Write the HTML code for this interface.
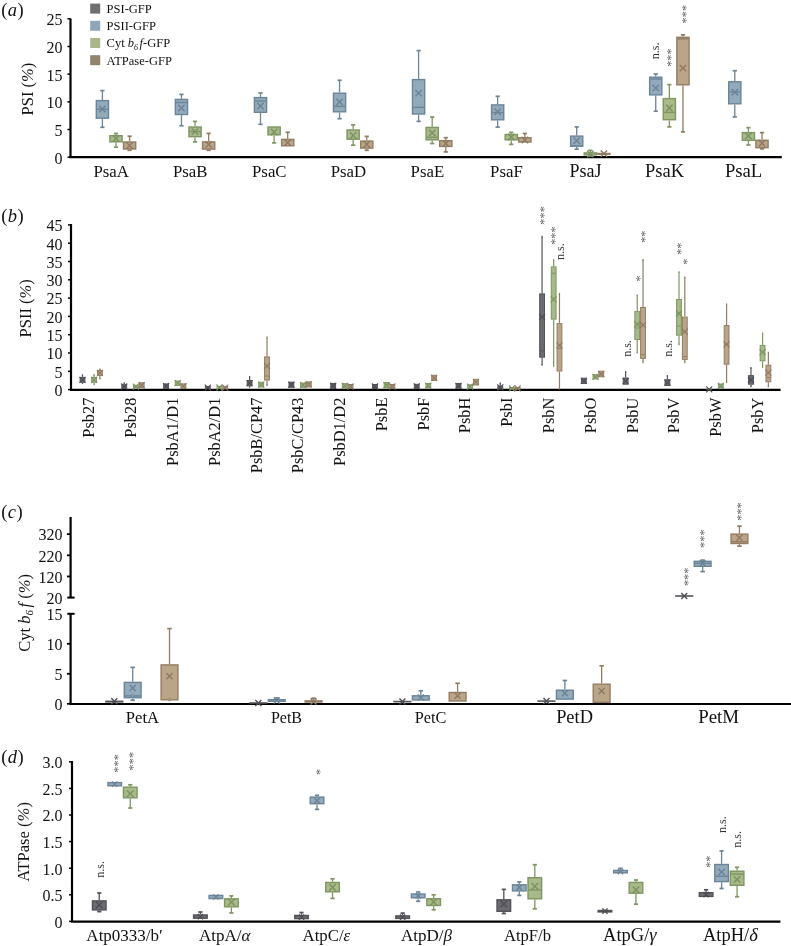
<!DOCTYPE html>
<html><head><meta charset="utf-8"><title>Figure</title>
<style>
html,body{margin:0;padding:0;background:#fff;}
body{width:791px;height:946px;overflow:hidden;font-family:"Liberation Serif",serif;}
svg{display:block;will-change:transform;}
</style></head><body>
<svg width="791" height="946" viewBox="0 0 791 946" font-family="Liberation Serif, serif">
<rect width="791" height="946" fill="#fff"/>
<text x="1.2" y="15.7" font-size="18.5" text-anchor="start" fill="#111" letter-spacing="0.4">(<tspan font-style="italic">a</tspan>)</text>
<line x1="70.5" y1="18.5" x2="70.5" y2="157.2" stroke="#000" stroke-width="2.2"/>
<line x1="67.5" y1="157.2" x2="70.5" y2="157.2" stroke="#000" stroke-width="1.5"/>
<text x="62.5" y="163.54" font-size="16" text-anchor="end" fill="#111">0</text>
<line x1="67.5" y1="129.52" x2="70.5" y2="129.52" stroke="#000" stroke-width="1.5"/>
<text x="62.5" y="135.86" font-size="16" text-anchor="end" fill="#111">5</text>
<line x1="67.5" y1="101.84" x2="70.5" y2="101.84" stroke="#000" stroke-width="1.5"/>
<text x="62.5" y="108.18" font-size="16" text-anchor="end" fill="#111">10</text>
<line x1="67.5" y1="74.16" x2="70.5" y2="74.16" stroke="#000" stroke-width="1.5"/>
<text x="62.5" y="80.5" font-size="16" text-anchor="end" fill="#111">15</text>
<line x1="67.5" y1="46.48" x2="70.5" y2="46.48" stroke="#000" stroke-width="1.5"/>
<text x="62.5" y="52.82" font-size="16" text-anchor="end" fill="#111">20</text>
<line x1="67.5" y1="18.8" x2="70.5" y2="18.8" stroke="#000" stroke-width="1.5"/>
<text x="62.5" y="25.14" font-size="16" text-anchor="end" fill="#111">25</text>
<line x1="69.4" y1="157.2" x2="781.8" y2="157.2" stroke="#000" stroke-width="2.2"/>
<text transform="translate(32.9 89.1) rotate(-90)" font-size="16.5" text-anchor="middle" fill="#111">PSI (<tspan font-style="italic">%</tspan>)</text>
<rect x="90.2" y="3.6" width="10" height="10" fill="#6f6e73"/>
<text x="106.6" y="13" font-size="12.5" text-anchor="start" fill="#111">PSI-GFP</text>
<rect x="90.2" y="20.8" width="10" height="10" fill="#8fa6ba"/>
<text x="106.6" y="30.2" font-size="12.5" text-anchor="start" fill="#111">PSII-GFP</text>
<rect x="90.2" y="38" width="10" height="10" fill="#a8b68a"/>
<text x="106.6" y="47.4" font-size="12.5" text-anchor="start" fill="#111">Cyt <tspan font-style="italic">b</tspan><tspan font-style="italic" font-size="8" dy="2.5">6</tspan><tspan font-style="italic" dy="-2.5" dx="1.5">f</tspan>-GFP</text>
<rect x="90.2" y="55.2" width="10" height="10" fill="#91836e"/>
<text x="106.6" y="64.6" font-size="12.5" text-anchor="start" fill="#111">ATPase-GFP</text>
<line x1="102.4" y1="90.6" x2="102.4" y2="99.9" stroke="#6c8498" stroke-width="1.3"/>
<line x1="100.3" y1="90.6" x2="104.5" y2="90.6" stroke="#6c8498" stroke-width="1.7"/>
<line x1="102.4" y1="118.9" x2="102.4" y2="127.3" stroke="#6c8498" stroke-width="1.3"/>
<line x1="100.3" y1="127.3" x2="104.5" y2="127.3" stroke="#6c8498" stroke-width="1.7"/>
<rect x="96.3" y="100.6" width="12.2" height="17.6" fill="#93aabb" stroke="#6c8498" stroke-width="1.4"/>
<line x1="97" y1="109.2" x2="107.8" y2="109.2" stroke="#6c8498" stroke-width="1.4"/>
<path d="M99.2 105.8L105.6 112.2M99.2 112.2L105.6 105.8" stroke="#6a8296" stroke-width="1.35" fill="none"/>
<line x1="116" y1="133.5" x2="116" y2="135" stroke="#7f9562" stroke-width="1.3"/>
<line x1="113.9" y1="133.5" x2="118.1" y2="133.5" stroke="#7f9562" stroke-width="1.7"/>
<line x1="116" y1="142.5" x2="116" y2="147.2" stroke="#7f9562" stroke-width="1.3"/>
<line x1="113.9" y1="147.2" x2="118.1" y2="147.2" stroke="#7f9562" stroke-width="1.7"/>
<rect x="109.9" y="135.7" width="12.2" height="6.1" fill="#a8b98a" stroke="#7f9562" stroke-width="1.4"/>
<path d="M112.8 135.3L119.2 141.7M112.8 141.7L119.2 135.3" stroke="#7b9160" stroke-width="1.35" fill="none"/>
<line x1="129.6" y1="136.2" x2="129.6" y2="141.3" stroke="#927c63" stroke-width="1.3"/>
<line x1="127.5" y1="136.2" x2="131.7" y2="136.2" stroke="#927c63" stroke-width="1.7"/>
<line x1="129.6" y1="149.7" x2="129.6" y2="150.3" stroke="#927c63" stroke-width="1.3"/>
<line x1="127.5" y1="150.3" x2="131.7" y2="150.3" stroke="#927c63" stroke-width="1.7"/>
<rect x="123.5" y="142" width="12.2" height="7" fill="#bba589" stroke="#927c63" stroke-width="1.4"/>
<path d="M126.4 142.3L132.8 148.7M126.4 148.7L132.8 142.3" stroke="#8d7862" stroke-width="1.35" fill="none"/>
<text x="111.2" y="177" font-size="16.8" text-anchor="middle" fill="#111">PsaA</text>
<line x1="181.45" y1="94.4" x2="181.45" y2="98.7" stroke="#6c8498" stroke-width="1.3"/>
<line x1="179.35" y1="94.4" x2="183.55" y2="94.4" stroke="#6c8498" stroke-width="1.7"/>
<line x1="181.45" y1="115.2" x2="181.45" y2="125.8" stroke="#6c8498" stroke-width="1.3"/>
<line x1="179.35" y1="125.8" x2="183.55" y2="125.8" stroke="#6c8498" stroke-width="1.7"/>
<rect x="175.35" y="99.4" width="12.2" height="15.1" fill="#93aabb" stroke="#6c8498" stroke-width="1.4"/>
<line x1="176.05" y1="102.5" x2="186.85" y2="102.5" stroke="#6c8498" stroke-width="1.4"/>
<path d="M178.25 104.8L184.65 111.2M178.25 111.2L184.65 104.8" stroke="#6a8296" stroke-width="1.35" fill="none"/>
<line x1="195.05" y1="121.4" x2="195.05" y2="126.3" stroke="#7f9562" stroke-width="1.3"/>
<line x1="192.95" y1="121.4" x2="197.15" y2="121.4" stroke="#7f9562" stroke-width="1.7"/>
<line x1="195.05" y1="137.4" x2="195.05" y2="141.9" stroke="#7f9562" stroke-width="1.3"/>
<line x1="192.95" y1="141.9" x2="197.15" y2="141.9" stroke="#7f9562" stroke-width="1.7"/>
<rect x="188.95" y="127" width="12.2" height="9.7" fill="#a8b98a" stroke="#7f9562" stroke-width="1.4"/>
<line x1="189.65" y1="131.6" x2="200.45" y2="131.6" stroke="#7f9562" stroke-width="1.4"/>
<path d="M191.85 128.4L198.25 134.8M191.85 134.8L198.25 128.4" stroke="#7b9160" stroke-width="1.35" fill="none"/>
<line x1="208.65" y1="133.4" x2="208.65" y2="141.2" stroke="#927c63" stroke-width="1.3"/>
<line x1="206.55" y1="133.4" x2="210.75" y2="133.4" stroke="#927c63" stroke-width="1.7"/>
<line x1="208.65" y1="149.8" x2="208.65" y2="150.3" stroke="#927c63" stroke-width="1.3"/>
<line x1="206.55" y1="150.3" x2="210.75" y2="150.3" stroke="#927c63" stroke-width="1.7"/>
<rect x="202.55" y="141.9" width="12.2" height="7.2" fill="#bba589" stroke="#927c63" stroke-width="1.4"/>
<path d="M205.45 141.3L211.85 147.7M205.45 147.7L211.85 141.3" stroke="#8d7862" stroke-width="1.35" fill="none"/>
<text x="190.25" y="177" font-size="16.8" text-anchor="middle" fill="#111">PsaB</text>
<line x1="260.5" y1="93" x2="260.5" y2="96.9" stroke="#6c8498" stroke-width="1.3"/>
<line x1="258.4" y1="93" x2="262.6" y2="93" stroke="#6c8498" stroke-width="1.7"/>
<line x1="260.5" y1="113" x2="260.5" y2="124.3" stroke="#6c8498" stroke-width="1.3"/>
<line x1="258.4" y1="124.3" x2="262.6" y2="124.3" stroke="#6c8498" stroke-width="1.7"/>
<rect x="254.4" y="97.6" width="12.2" height="14.7" fill="#93aabb" stroke="#6c8498" stroke-width="1.4"/>
<line x1="255.1" y1="101" x2="265.9" y2="101" stroke="#6c8498" stroke-width="1.4"/>
<path d="M257.3 102.8L263.7 109.2M257.3 109.2L263.7 102.8" stroke="#6a8296" stroke-width="1.35" fill="none"/>
<line x1="274.1" y1="135.5" x2="274.1" y2="142.9" stroke="#7f9562" stroke-width="1.3"/>
<line x1="272" y1="142.9" x2="276.2" y2="142.9" stroke="#7f9562" stroke-width="1.7"/>
<rect x="268" y="127" width="12.2" height="7.8" fill="#a8b98a" stroke="#7f9562" stroke-width="1.4"/>
<path d="M270.9 128.8L277.3 135.2M270.9 135.2L277.3 128.8" stroke="#7b9160" stroke-width="1.35" fill="none"/>
<line x1="287.7" y1="132.3" x2="287.7" y2="138.7" stroke="#927c63" stroke-width="1.3"/>
<line x1="285.6" y1="132.3" x2="289.8" y2="132.3" stroke="#927c63" stroke-width="1.7"/>
<rect x="281.6" y="139.4" width="12.2" height="6.4" fill="#bba589" stroke="#927c63" stroke-width="1.4"/>
<path d="M284.5 139.4L290.9 145.8M284.5 145.8L290.9 139.4" stroke="#8d7862" stroke-width="1.35" fill="none"/>
<text x="269.3" y="177" font-size="16.8" text-anchor="middle" fill="#111">PsaC</text>
<line x1="339.55" y1="80.3" x2="339.55" y2="92.5" stroke="#6c8498" stroke-width="1.3"/>
<line x1="337.45" y1="80.3" x2="341.65" y2="80.3" stroke="#6c8498" stroke-width="1.7"/>
<line x1="339.55" y1="112.5" x2="339.55" y2="118.7" stroke="#6c8498" stroke-width="1.3"/>
<line x1="337.45" y1="118.7" x2="341.65" y2="118.7" stroke="#6c8498" stroke-width="1.7"/>
<rect x="333.45" y="93.2" width="12.2" height="18.6" fill="#93aabb" stroke="#6c8498" stroke-width="1.4"/>
<line x1="334.15" y1="106.3" x2="344.95" y2="106.3" stroke="#6c8498" stroke-width="1.4"/>
<path d="M336.35 98.7L342.75 105.1M336.35 105.1L342.75 98.7" stroke="#6a8296" stroke-width="1.35" fill="none"/>
<line x1="353.15" y1="124.9" x2="353.15" y2="129.3" stroke="#7f9562" stroke-width="1.3"/>
<line x1="351.05" y1="124.9" x2="355.25" y2="124.9" stroke="#7f9562" stroke-width="1.7"/>
<line x1="353.15" y1="139.9" x2="353.15" y2="145.2" stroke="#7f9562" stroke-width="1.3"/>
<line x1="351.05" y1="145.2" x2="355.25" y2="145.2" stroke="#7f9562" stroke-width="1.7"/>
<rect x="347.05" y="130" width="12.2" height="9.2" fill="#a8b98a" stroke="#7f9562" stroke-width="1.4"/>
<path d="M349.95 132.3L356.35 138.7M349.95 138.7L356.35 132.3" stroke="#7b9160" stroke-width="1.35" fill="none"/>
<line x1="366.75" y1="136.4" x2="366.75" y2="140.4" stroke="#927c63" stroke-width="1.3"/>
<line x1="364.65" y1="136.4" x2="368.85" y2="136.4" stroke="#927c63" stroke-width="1.7"/>
<line x1="366.75" y1="148.8" x2="366.75" y2="150.3" stroke="#927c63" stroke-width="1.3"/>
<line x1="364.65" y1="150.3" x2="368.85" y2="150.3" stroke="#927c63" stroke-width="1.7"/>
<rect x="360.65" y="141.1" width="12.2" height="7" fill="#bba589" stroke="#927c63" stroke-width="1.4"/>
<path d="M363.55 141.1L369.95 147.5M363.55 147.5L369.95 141.1" stroke="#8d7862" stroke-width="1.35" fill="none"/>
<text x="348.35" y="177" font-size="16.8" text-anchor="middle" fill="#111">PsaD</text>
<line x1="418.6" y1="50.6" x2="418.6" y2="78.9" stroke="#6c8498" stroke-width="1.3"/>
<line x1="416.5" y1="50.6" x2="420.7" y2="50.6" stroke="#6c8498" stroke-width="1.7"/>
<line x1="418.6" y1="114.7" x2="418.6" y2="121.4" stroke="#6c8498" stroke-width="1.3"/>
<line x1="416.5" y1="121.4" x2="420.7" y2="121.4" stroke="#6c8498" stroke-width="1.7"/>
<rect x="412.5" y="79.6" width="12.2" height="34.4" fill="#93aabb" stroke="#6c8498" stroke-width="1.4"/>
<line x1="413.2" y1="107.3" x2="424" y2="107.3" stroke="#6c8498" stroke-width="1.4"/>
<path d="M415.4 89.9L421.8 96.3M415.4 96.3L421.8 89.9" stroke="#6a8296" stroke-width="1.35" fill="none"/>
<line x1="432.2" y1="117" x2="432.2" y2="126.7" stroke="#7f9562" stroke-width="1.3"/>
<line x1="430.1" y1="117" x2="434.3" y2="117" stroke="#7f9562" stroke-width="1.7"/>
<line x1="432.2" y1="140.5" x2="432.2" y2="143.5" stroke="#7f9562" stroke-width="1.3"/>
<line x1="430.1" y1="143.5" x2="434.3" y2="143.5" stroke="#7f9562" stroke-width="1.7"/>
<rect x="426.1" y="127.4" width="12.2" height="12.4" fill="#a8b98a" stroke="#7f9562" stroke-width="1.4"/>
<line x1="426.8" y1="137.3" x2="437.6" y2="137.3" stroke="#7f9562" stroke-width="1.4"/>
<path d="M429 129.7L435.4 136.1M429 136.1L435.4 129.7" stroke="#7b9160" stroke-width="1.35" fill="none"/>
<line x1="445.8" y1="137.7" x2="445.8" y2="140" stroke="#927c63" stroke-width="1.3"/>
<line x1="443.7" y1="137.7" x2="447.9" y2="137.7" stroke="#927c63" stroke-width="1.7"/>
<line x1="445.8" y1="147.1" x2="445.8" y2="151.9" stroke="#927c63" stroke-width="1.3"/>
<line x1="443.7" y1="151.9" x2="447.9" y2="151.9" stroke="#927c63" stroke-width="1.7"/>
<rect x="439.7" y="140.7" width="12.2" height="5.7" fill="#bba589" stroke="#927c63" stroke-width="1.4"/>
<path d="M442.6 140.3L449 146.7M442.6 146.7L449 140.3" stroke="#8d7862" stroke-width="1.35" fill="none"/>
<text x="427.4" y="177" font-size="16.8" text-anchor="middle" fill="#111">PsaE</text>
<line x1="497.65" y1="96.3" x2="497.65" y2="104.2" stroke="#6c8498" stroke-width="1.3"/>
<line x1="495.55" y1="96.3" x2="499.75" y2="96.3" stroke="#6c8498" stroke-width="1.7"/>
<line x1="497.65" y1="120.5" x2="497.65" y2="127.1" stroke="#6c8498" stroke-width="1.3"/>
<line x1="495.55" y1="127.1" x2="499.75" y2="127.1" stroke="#6c8498" stroke-width="1.7"/>
<rect x="491.55" y="104.9" width="12.2" height="14.9" fill="#93aabb" stroke="#6c8498" stroke-width="1.4"/>
<line x1="492.25" y1="112.6" x2="503.05" y2="112.6" stroke="#6c8498" stroke-width="1.4"/>
<path d="M494.45 108.5L500.85 114.9M494.45 114.9L500.85 108.5" stroke="#6a8296" stroke-width="1.35" fill="none"/>
<line x1="511.25" y1="132.4" x2="511.25" y2="133.8" stroke="#7f9562" stroke-width="1.3"/>
<line x1="509.15" y1="132.4" x2="513.35" y2="132.4" stroke="#7f9562" stroke-width="1.7"/>
<line x1="511.25" y1="140.5" x2="511.25" y2="144.4" stroke="#7f9562" stroke-width="1.3"/>
<line x1="509.15" y1="144.4" x2="513.35" y2="144.4" stroke="#7f9562" stroke-width="1.7"/>
<rect x="505.15" y="134.5" width="12.2" height="5.3" fill="#a8b98a" stroke="#7f9562" stroke-width="1.4"/>
<path d="M508.05 133.8L514.45 140.2M508.05 140.2L514.45 133.8" stroke="#7b9160" stroke-width="1.35" fill="none"/>
<line x1="524.85" y1="133.5" x2="524.85" y2="137" stroke="#927c63" stroke-width="1.3"/>
<line x1="522.75" y1="133.5" x2="526.95" y2="133.5" stroke="#927c63" stroke-width="1.7"/>
<rect x="518.75" y="137.7" width="12.2" height="4.3" fill="#bba589" stroke="#927c63" stroke-width="1.4"/>
<path d="M521.65 136.8L528.05 143.2M521.65 143.2L528.05 136.8" stroke="#8d7862" stroke-width="1.35" fill="none"/>
<text x="506.45" y="177" font-size="16.8" text-anchor="middle" fill="#111">PsaF</text>
<line x1="576.7" y1="126.9" x2="576.7" y2="135.4" stroke="#6c8498" stroke-width="1.3"/>
<line x1="574.6" y1="126.9" x2="578.8" y2="126.9" stroke="#6c8498" stroke-width="1.7"/>
<line x1="576.7" y1="146.9" x2="576.7" y2="149.2" stroke="#6c8498" stroke-width="1.3"/>
<line x1="574.6" y1="149.2" x2="578.8" y2="149.2" stroke="#6c8498" stroke-width="1.7"/>
<rect x="570.6" y="136.1" width="12.2" height="10.1" fill="#93aabb" stroke="#6c8498" stroke-width="1.4"/>
<line x1="571.3" y1="146" x2="582.1" y2="146" stroke="#6c8498" stroke-width="1.4"/>
<path d="M573.5 137.5L579.9 143.9M573.5 143.9L579.9 137.5" stroke="#6a8296" stroke-width="1.35" fill="none"/>
<line x1="590.3" y1="150.4" x2="590.3" y2="152.2" stroke="#7f9562" stroke-width="1.3"/>
<line x1="588.2" y1="150.4" x2="592.4" y2="150.4" stroke="#7f9562" stroke-width="1.7"/>
<line x1="590.3" y1="155.6" x2="590.3" y2="156" stroke="#7f9562" stroke-width="1.3"/>
<line x1="588.2" y1="156" x2="592.4" y2="156" stroke="#7f9562" stroke-width="1.7"/>
<rect x="584.2" y="152.9" width="12.2" height="2" fill="#a8b98a" stroke="#7f9562" stroke-width="1.4"/>
<path d="M587.1 150.8L593.5 157.2M587.1 157.2L593.5 150.8" stroke="#7b9160" stroke-width="1.35" fill="none"/>
<rect x="597.8" y="153.5" width="12.2" height="0.7" fill="#bba589" stroke="#927c63" stroke-width="1.4"/>
<path d="M600.7 150.4L607.1 156.8M600.7 156.8L607.1 150.4" stroke="#8d7862" stroke-width="1.35" fill="none"/>
<text x="585.5" y="177" font-size="18" text-anchor="middle" fill="#111">PsaJ</text>
<line x1="655.75" y1="74" x2="655.75" y2="76.5" stroke="#6c8498" stroke-width="1.3"/>
<line x1="653.65" y1="74" x2="657.85" y2="74" stroke="#6c8498" stroke-width="1.7"/>
<line x1="655.75" y1="95.6" x2="655.75" y2="111.2" stroke="#6c8498" stroke-width="1.3"/>
<line x1="653.65" y1="111.2" x2="657.85" y2="111.2" stroke="#6c8498" stroke-width="1.7"/>
<rect x="649.65" y="77.2" width="12.2" height="17.7" fill="#93aabb" stroke="#6c8498" stroke-width="1.4"/>
<line x1="650.35" y1="79.1" x2="661.15" y2="79.1" stroke="#6c8498" stroke-width="1.4"/>
<path d="M652.55 84.8L658.95 91.2M652.55 91.2L658.95 84.8" stroke="#6a8296" stroke-width="1.35" fill="none"/>
<line x1="669.35" y1="84.6" x2="669.35" y2="97.9" stroke="#7f9562" stroke-width="1.3"/>
<line x1="667.25" y1="84.6" x2="671.45" y2="84.6" stroke="#7f9562" stroke-width="1.7"/>
<line x1="669.35" y1="120.4" x2="669.35" y2="126.9" stroke="#7f9562" stroke-width="1.3"/>
<line x1="667.25" y1="126.9" x2="671.45" y2="126.9" stroke="#7f9562" stroke-width="1.7"/>
<rect x="663.25" y="98.6" width="12.2" height="21.1" fill="#a8b98a" stroke="#7f9562" stroke-width="1.4"/>
<line x1="663.95" y1="112.4" x2="674.75" y2="112.4" stroke="#7f9562" stroke-width="1.4"/>
<path d="M666.15 104.8L672.55 111.2M666.15 111.2L672.55 104.8" stroke="#7b9160" stroke-width="1.35" fill="none"/>
<line x1="682.95" y1="34.9" x2="682.95" y2="36.6" stroke="#927c63" stroke-width="1.3"/>
<line x1="680.85" y1="34.9" x2="685.05" y2="34.9" stroke="#927c63" stroke-width="1.7"/>
<line x1="682.95" y1="85.5" x2="682.95" y2="131.9" stroke="#927c63" stroke-width="1.3"/>
<line x1="680.85" y1="131.9" x2="685.05" y2="131.9" stroke="#927c63" stroke-width="1.7"/>
<rect x="676.85" y="37.3" width="12.2" height="47.5" fill="#bba589" stroke="#927c63" stroke-width="1.4"/>
<line x1="677.55" y1="38.9" x2="688.35" y2="38.9" stroke="#927c63" stroke-width="1.4"/>
<path d="M679.75 64.9L686.15 71.3M679.75 71.3L686.15 64.9" stroke="#8d7862" stroke-width="1.35" fill="none"/>
<text x="664.55" y="177" font-size="18.5" text-anchor="middle" fill="#111">PsaK</text>
<line x1="734.8" y1="70.7" x2="734.8" y2="81.1" stroke="#6c8498" stroke-width="1.3"/>
<line x1="732.7" y1="70.7" x2="736.9" y2="70.7" stroke="#6c8498" stroke-width="1.7"/>
<line x1="734.8" y1="104.5" x2="734.8" y2="116.9" stroke="#6c8498" stroke-width="1.3"/>
<line x1="732.7" y1="116.9" x2="736.9" y2="116.9" stroke="#6c8498" stroke-width="1.7"/>
<rect x="728.7" y="81.8" width="12.2" height="22" fill="#93aabb" stroke="#6c8498" stroke-width="1.4"/>
<line x1="729.4" y1="91.9" x2="740.2" y2="91.9" stroke="#6c8498" stroke-width="1.4"/>
<path d="M731.6 89L738 95.4M731.6 95.4L738 89" stroke="#6a8296" stroke-width="1.35" fill="none"/>
<line x1="748.4" y1="127.7" x2="748.4" y2="131.9" stroke="#7f9562" stroke-width="1.3"/>
<line x1="746.3" y1="127.7" x2="750.5" y2="127.7" stroke="#7f9562" stroke-width="1.7"/>
<line x1="748.4" y1="141" x2="748.4" y2="145" stroke="#7f9562" stroke-width="1.3"/>
<line x1="746.3" y1="145" x2="750.5" y2="145" stroke="#7f9562" stroke-width="1.7"/>
<rect x="742.3" y="132.6" width="12.2" height="7.7" fill="#a8b98a" stroke="#7f9562" stroke-width="1.4"/>
<path d="M745.2 132.7L751.6 139.1M745.2 139.1L751.6 132.7" stroke="#7b9160" stroke-width="1.35" fill="none"/>
<line x1="762" y1="132.6" x2="762" y2="139.6" stroke="#927c63" stroke-width="1.3"/>
<line x1="759.9" y1="132.6" x2="764.1" y2="132.6" stroke="#927c63" stroke-width="1.7"/>
<line x1="762" y1="148.4" x2="762" y2="148.9" stroke="#927c63" stroke-width="1.3"/>
<line x1="759.9" y1="148.9" x2="764.1" y2="148.9" stroke="#927c63" stroke-width="1.7"/>
<rect x="755.9" y="140.3" width="12.2" height="7.4" fill="#bba589" stroke="#927c63" stroke-width="1.4"/>
<path d="M758.8 140.1L765.2 146.5M758.8 146.5L765.2 140.1" stroke="#8d7862" stroke-width="1.35" fill="none"/>
<text x="743.6" y="177" font-size="18.7" text-anchor="middle" fill="#111">PsaL</text>
<text transform="translate(659.4 50.9) rotate(-90)" font-size="12" text-anchor="middle" fill="#333">n.s.</text>
<text transform="translate(675 57.55) rotate(-90)" font-size="12.4" text-anchor="middle" fill="#5a5a5a">***</text>
<text transform="translate(690.15 14.15) rotate(-90)" font-size="12.4" text-anchor="middle" fill="#5a5a5a">***</text>
<text x="1.2" y="222" font-size="18.5" text-anchor="start" fill="#111" letter-spacing="0.4">(<tspan font-style="italic">b</tspan>)</text>
<line x1="71" y1="224" x2="71" y2="389.6" stroke="#000" stroke-width="2.2"/>
<line x1="68" y1="389.6" x2="71" y2="389.6" stroke="#000" stroke-width="1.5"/>
<text x="62.5" y="395.94" font-size="16" text-anchor="end" fill="#111">0</text>
<line x1="68" y1="371.3" x2="71" y2="371.3" stroke="#000" stroke-width="1.5"/>
<text x="62.5" y="377.64" font-size="16" text-anchor="end" fill="#111">5</text>
<line x1="68" y1="353" x2="71" y2="353" stroke="#000" stroke-width="1.5"/>
<text x="62.5" y="359.34" font-size="16" text-anchor="end" fill="#111">10</text>
<line x1="68" y1="334.7" x2="71" y2="334.7" stroke="#000" stroke-width="1.5"/>
<text x="62.5" y="341.04" font-size="16" text-anchor="end" fill="#111">15</text>
<line x1="68" y1="316.4" x2="71" y2="316.4" stroke="#000" stroke-width="1.5"/>
<text x="62.5" y="322.74" font-size="16" text-anchor="end" fill="#111">20</text>
<line x1="68" y1="298.1" x2="71" y2="298.1" stroke="#000" stroke-width="1.5"/>
<text x="62.5" y="304.44" font-size="16" text-anchor="end" fill="#111">25</text>
<line x1="68" y1="279.8" x2="71" y2="279.8" stroke="#000" stroke-width="1.5"/>
<text x="62.5" y="286.14" font-size="16" text-anchor="end" fill="#111">30</text>
<line x1="68" y1="261.5" x2="71" y2="261.5" stroke="#000" stroke-width="1.5"/>
<text x="62.5" y="267.84" font-size="16" text-anchor="end" fill="#111">35</text>
<line x1="68" y1="243.2" x2="71" y2="243.2" stroke="#000" stroke-width="1.5"/>
<text x="62.5" y="249.54" font-size="16" text-anchor="end" fill="#111">40</text>
<line x1="68" y1="224.9" x2="71" y2="224.9" stroke="#000" stroke-width="1.5"/>
<text x="62.5" y="231.24" font-size="16" text-anchor="end" fill="#111">45</text>
<line x1="70" y1="389.8" x2="780.6" y2="389.8" stroke="#000" stroke-width="2.2"/>
<text transform="translate(31 308.3) rotate(-90)" font-size="16.5" text-anchor="middle" fill="#111">PSII (<tspan font-style="italic">%</tspan>)</text>
<line x1="82.49" y1="375.1" x2="82.49" y2="376.9" stroke="#535258" stroke-width="1.2"/>
<line x1="81.89" y1="375.1" x2="83.09" y2="375.1" stroke="#535258" stroke-width="1.7"/>
<line x1="82.49" y1="382.7" x2="82.49" y2="383.2" stroke="#535258" stroke-width="1.2"/>
<line x1="81.89" y1="383.2" x2="83.09" y2="383.2" stroke="#535258" stroke-width="1.7"/>
<rect x="80.09" y="377.4" width="4.8" height="4.8" fill="#6c6b71" stroke="#535258" stroke-width="1"/>
<path d="M79.49 376.8L85.49 382.8M79.49 382.8L85.49 376.8" stroke="#4e4d53" stroke-width="1.1" fill="none"/>
<line x1="94.09" y1="374.9" x2="94.09" y2="376.9" stroke="#7f9562" stroke-width="1.2"/>
<line x1="93.49" y1="374.9" x2="94.69" y2="374.9" stroke="#7f9562" stroke-width="1.7"/>
<line x1="94.09" y1="382.7" x2="94.09" y2="384.5" stroke="#7f9562" stroke-width="1.2"/>
<line x1="93.49" y1="384.5" x2="94.69" y2="384.5" stroke="#7f9562" stroke-width="1.7"/>
<rect x="91.69" y="377.4" width="4.8" height="4.8" fill="#a8b98a" stroke="#7f9562" stroke-width="1"/>
<path d="M91.09 376.8L97.09 382.8M91.09 382.8L97.09 376.8" stroke="#7b9160" stroke-width="1.1" fill="none"/>
<line x1="99.89" y1="369.3" x2="99.89" y2="370" stroke="#927c63" stroke-width="1.2"/>
<line x1="99.29" y1="369.3" x2="100.49" y2="369.3" stroke="#927c63" stroke-width="1.7"/>
<line x1="99.89" y1="375.9" x2="99.89" y2="378.7" stroke="#927c63" stroke-width="1.2"/>
<line x1="99.29" y1="378.7" x2="100.49" y2="378.7" stroke="#927c63" stroke-width="1.7"/>
<rect x="97.49" y="370.5" width="4.8" height="4.9" fill="#bba589" stroke="#927c63" stroke-width="1"/>
<path d="M96.89 369.95L102.89 375.95M96.89 375.95L102.89 369.95" stroke="#8d7862" stroke-width="1.1" fill="none"/>
<text transform="translate(94.39 397.6) rotate(-90)" font-size="16.4" text-anchor="end" fill="#111">Psb27</text>
<line x1="124.27" y1="383.2" x2="124.27" y2="384.2" stroke="#535258" stroke-width="1.2"/>
<line x1="123.67" y1="383.2" x2="124.87" y2="383.2" stroke="#535258" stroke-width="1.7"/>
<rect x="121.87" y="384.7" width="4.8" height="3.6" fill="#6c6b71" stroke="#535258" stroke-width="1"/>
<path d="M121.27 383.5L127.27 389.5M121.27 389.5L127.27 383.5" stroke="#4e4d53" stroke-width="1.1" fill="none"/>
<rect x="133.47" y="385.3" width="4.8" height="2.6" fill="#a8b98a" stroke="#7f9562" stroke-width="1"/>
<path d="M132.87 383.6L138.87 389.6M132.87 389.6L138.87 383.6" stroke="#7b9160" stroke-width="1.1" fill="none"/>
<rect x="139.27" y="382.8" width="4.8" height="4.9" fill="#bba589" stroke="#927c63" stroke-width="1"/>
<path d="M138.67 382.25L144.67 388.25M138.67 388.25L144.67 382.25" stroke="#8d7862" stroke-width="1.1" fill="none"/>
<text transform="translate(136.17 397.6) rotate(-90)" font-size="16.4" text-anchor="end" fill="#111">Psb28</text>
<rect x="163.65" y="383.9" width="4.8" height="4.4" fill="#6c6b71" stroke="#535258" stroke-width="1"/>
<path d="M163.05 383.1L169.05 389.1M163.05 389.1L169.05 383.1" stroke="#4e4d53" stroke-width="1.1" fill="none"/>
<rect x="175.25" y="381" width="4.8" height="4.4" fill="#a8b98a" stroke="#7f9562" stroke-width="1"/>
<path d="M174.65 380.2L180.65 386.2M174.65 386.2L180.65 380.2" stroke="#7b9160" stroke-width="1.1" fill="none"/>
<rect x="181.05" y="383.9" width="4.8" height="4.4" fill="#bba589" stroke="#927c63" stroke-width="1"/>
<path d="M180.45 383.1L186.45 389.1M180.45 389.1L186.45 383.1" stroke="#8d7862" stroke-width="1.1" fill="none"/>
<text transform="translate(177.95 397.6) rotate(-90)" font-size="16.4" text-anchor="end" fill="#111">PsbA1/D1</text>
<rect x="205.43" y="386.4" width="4.8" height="2.3" fill="#6c6b71" stroke="#535258" stroke-width="1"/>
<path d="M204.83 384.55L210.83 390.55M204.83 390.55L210.83 384.55" stroke="#4e4d53" stroke-width="1.1" fill="none"/>
<rect x="217.03" y="386.5" width="4.8" height="2" fill="#a8b98a" stroke="#7f9562" stroke-width="1"/>
<path d="M216.43 384.5L222.43 390.5M216.43 390.5L222.43 384.5" stroke="#7b9160" stroke-width="1.1" fill="none"/>
<rect x="222.83" y="386.4" width="4.8" height="2.3" fill="#bba589" stroke="#927c63" stroke-width="1"/>
<path d="M222.23 384.55L228.23 390.55M222.23 390.55L228.23 384.55" stroke="#8d7862" stroke-width="1.1" fill="none"/>
<text transform="translate(219.73 397.6) rotate(-90)" font-size="16.4" text-anchor="end" fill="#111">PsbA2/D1</text>
<line x1="249.61" y1="376.9" x2="249.61" y2="380" stroke="#535258" stroke-width="1.2"/>
<line x1="249.01" y1="376.9" x2="250.21" y2="376.9" stroke="#535258" stroke-width="1.7"/>
<line x1="249.61" y1="386.3" x2="249.61" y2="387" stroke="#535258" stroke-width="1.2"/>
<line x1="249.01" y1="387" x2="250.21" y2="387" stroke="#535258" stroke-width="1.7"/>
<rect x="247.21" y="380.5" width="4.8" height="5.3" fill="#6c6b71" stroke="#535258" stroke-width="1"/>
<path d="M246.61 380.15L252.61 386.15M246.61 386.15L252.61 380.15" stroke="#4e4d53" stroke-width="1.1" fill="none"/>
<rect x="258.81" y="382.3" width="4.8" height="4.7" fill="#a8b98a" stroke="#7f9562" stroke-width="1"/>
<path d="M258.21 381.65L264.21 387.65M258.21 387.65L264.21 381.65" stroke="#7b9160" stroke-width="1.1" fill="none"/>
<line x1="267.01" y1="337.4" x2="267.01" y2="356.4" stroke="#927c63" stroke-width="1.2"/>
<line x1="266.41" y1="337.4" x2="267.61" y2="337.4" stroke="#927c63" stroke-width="1.7"/>
<line x1="267.01" y1="380.6" x2="267.01" y2="385.2" stroke="#927c63" stroke-width="1.2"/>
<line x1="266.41" y1="385.2" x2="267.61" y2="385.2" stroke="#927c63" stroke-width="1.7"/>
<rect x="264.61" y="356.9" width="4.8" height="23.2" fill="#bba589" stroke="#927c63" stroke-width="1"/>
<line x1="265.11" y1="376.1" x2="268.91" y2="376.1" stroke="#927c63" stroke-width="1"/>
<path d="M264.01 363L270.01 369M264.01 369L270.01 363" stroke="#8d7862" stroke-width="1.1" fill="none"/>
<text transform="translate(261.51 397.6) rotate(-90)" font-size="16.4" text-anchor="end" fill="#111">PsbB/CP47</text>
<rect x="288.99" y="382.2" width="4.8" height="5.1" fill="#6c6b71" stroke="#535258" stroke-width="1"/>
<path d="M288.39 381.75L294.39 387.75M288.39 387.75L294.39 381.75" stroke="#4e4d53" stroke-width="1.1" fill="none"/>
<rect x="300.59" y="383" width="4.8" height="4.3" fill="#a8b98a" stroke="#7f9562" stroke-width="1"/>
<path d="M299.99 382.15L305.99 388.15M299.99 388.15L305.99 382.15" stroke="#7b9160" stroke-width="1.1" fill="none"/>
<rect x="306.39" y="381.9" width="4.8" height="5.1" fill="#bba589" stroke="#927c63" stroke-width="1"/>
<path d="M305.79 381.45L311.79 387.45M305.79 387.45L311.79 381.45" stroke="#8d7862" stroke-width="1.1" fill="none"/>
<text transform="translate(303.29 397.6) rotate(-90)" font-size="16.4" text-anchor="end" fill="#111">PsbC/CP43</text>
<rect x="330.77" y="383.4" width="4.8" height="5.1" fill="#6c6b71" stroke="#535258" stroke-width="1"/>
<path d="M330.17 382.95L336.17 388.95M330.17 388.95L336.17 382.95" stroke="#4e4d53" stroke-width="1.1" fill="none"/>
<rect x="342.37" y="383.7" width="4.8" height="4.3" fill="#a8b98a" stroke="#7f9562" stroke-width="1"/>
<path d="M341.77 382.85L347.77 388.85M341.77 388.85L347.77 382.85" stroke="#7b9160" stroke-width="1.1" fill="none"/>
<rect x="348.17" y="384.5" width="4.8" height="4" fill="#bba589" stroke="#927c63" stroke-width="1"/>
<path d="M347.57 383.5L353.57 389.5M347.57 389.5L353.57 383.5" stroke="#8d7862" stroke-width="1.1" fill="none"/>
<text transform="translate(345.07 397.6) rotate(-90)" font-size="16.4" text-anchor="end" fill="#111">PsbD1/D2</text>
<rect x="372.55" y="384.5" width="4.8" height="4" fill="#6c6b71" stroke="#535258" stroke-width="1"/>
<path d="M371.95 383.5L377.95 389.5M371.95 389.5L377.95 383.5" stroke="#4e4d53" stroke-width="1.1" fill="none"/>
<rect x="384.15" y="382.5" width="4.8" height="5.5" fill="#a8b98a" stroke="#7f9562" stroke-width="1"/>
<path d="M383.55 382.25L389.55 388.25M383.55 388.25L389.55 382.25" stroke="#7b9160" stroke-width="1.1" fill="none"/>
<rect x="389.95" y="384.5" width="4.8" height="4" fill="#bba589" stroke="#927c63" stroke-width="1"/>
<path d="M389.35 383.5L395.35 389.5M389.35 389.5L395.35 383.5" stroke="#8d7862" stroke-width="1.1" fill="none"/>
<text transform="translate(386.85 397.6) rotate(-90)" font-size="16.4" text-anchor="end" fill="#111">PsbE</text>
<rect x="414.33" y="384.3" width="4.8" height="4" fill="#6c6b71" stroke="#535258" stroke-width="1"/>
<path d="M413.73 383.3L419.73 389.3M413.73 389.3L419.73 383.3" stroke="#4e4d53" stroke-width="1.1" fill="none"/>
<rect x="425.93" y="383.5" width="4.8" height="4.3" fill="#a8b98a" stroke="#7f9562" stroke-width="1"/>
<path d="M425.33 382.65L431.33 388.65M425.33 388.65L431.33 382.65" stroke="#7b9160" stroke-width="1.1" fill="none"/>
<rect x="431.73" y="375.3" width="4.8" height="5.2" fill="#bba589" stroke="#927c63" stroke-width="1"/>
<path d="M431.13 374.9L437.13 380.9M431.13 380.9L437.13 374.9" stroke="#8d7862" stroke-width="1.1" fill="none"/>
<text transform="translate(428.63 397.6) rotate(-90)" font-size="16.4" text-anchor="end" fill="#111">PsbF</text>
<rect x="456.11" y="383.5" width="4.8" height="4.8" fill="#6c6b71" stroke="#535258" stroke-width="1"/>
<path d="M455.51 382.9L461.51 388.9M455.51 388.9L461.51 382.9" stroke="#4e4d53" stroke-width="1.1" fill="none"/>
<rect x="467.71" y="384.8" width="4.8" height="3.5" fill="#a8b98a" stroke="#7f9562" stroke-width="1"/>
<path d="M467.11 383.55L473.11 389.55M467.11 389.55L473.11 383.55" stroke="#7b9160" stroke-width="1.1" fill="none"/>
<rect x="473.51" y="379.4" width="4.8" height="5.6" fill="#bba589" stroke="#927c63" stroke-width="1"/>
<path d="M472.91 379.2L478.91 385.2M472.91 385.2L478.91 379.2" stroke="#8d7862" stroke-width="1.1" fill="none"/>
<text transform="translate(470.41 397.6) rotate(-90)" font-size="16.4" text-anchor="end" fill="#111">PsbH</text>
<line x1="500.29" y1="383.3" x2="500.29" y2="385.5" stroke="#535258" stroke-width="1.2"/>
<line x1="499.69" y1="383.3" x2="500.89" y2="383.3" stroke="#535258" stroke-width="1.7"/>
<rect x="497.89" y="386" width="4.8" height="2.9" fill="#6c6b71" stroke="#535258" stroke-width="1"/>
<path d="M497.29 384.45L503.29 390.45M497.29 390.45L503.29 384.45" stroke="#4e4d53" stroke-width="1.1" fill="none"/>
<rect x="509.49" y="387.5" width="4.8" height="1.6" fill="#a8b98a" stroke="#7f9562" stroke-width="1"/>
<path d="M508.89 385.3L514.89 391.3M508.89 391.3L514.89 385.3" stroke="#7b9160" stroke-width="1.1" fill="none"/>
<rect x="515.29" y="387.5" width="4.8" height="1.6" fill="#bba589" stroke="#927c63" stroke-width="1"/>
<path d="M514.69 385.3L520.69 391.3M514.69 391.3L520.69 385.3" stroke="#8d7862" stroke-width="1.1" fill="none"/>
<text transform="translate(512.19 397.6) rotate(-90)" font-size="16.4" text-anchor="end" fill="#111">PsbI</text>
<line x1="542.07" y1="236.7" x2="542.07" y2="293.4" stroke="#535258" stroke-width="1.2"/>
<line x1="541.47" y1="236.7" x2="542.67" y2="236.7" stroke="#535258" stroke-width="1.7"/>
<line x1="542.07" y1="357.7" x2="542.07" y2="365" stroke="#535258" stroke-width="1.2"/>
<line x1="541.47" y1="365" x2="542.67" y2="365" stroke="#535258" stroke-width="1.7"/>
<rect x="539.67" y="293.9" width="4.8" height="63.3" fill="#6c6b71" stroke="#535258" stroke-width="1"/>
<line x1="540.17" y1="350.9" x2="543.97" y2="350.9" stroke="#535258" stroke-width="1"/>
<path d="M539.07 314.1L545.07 320.1M539.07 320.1L545.07 314.1" stroke="#4e4d53" stroke-width="1.1" fill="none"/>
<line x1="553.67" y1="260.2" x2="553.67" y2="266.4" stroke="#7f9562" stroke-width="1.2"/>
<line x1="553.07" y1="260.2" x2="554.27" y2="260.2" stroke="#7f9562" stroke-width="1.7"/>
<line x1="553.67" y1="319.6" x2="553.67" y2="366" stroke="#7f9562" stroke-width="1.2"/>
<line x1="553.07" y1="366" x2="554.27" y2="366" stroke="#7f9562" stroke-width="1.7"/>
<rect x="551.27" y="266.9" width="4.8" height="52.2" fill="#a8b98a" stroke="#7f9562" stroke-width="1"/>
<line x1="551.77" y1="273.2" x2="555.57" y2="273.2" stroke="#7f9562" stroke-width="1"/>
<path d="M550.67 296.4L556.67 302.4M550.67 302.4L556.67 296.4" stroke="#7b9160" stroke-width="1.1" fill="none"/>
<line x1="559.47" y1="293.8" x2="559.47" y2="323.1" stroke="#927c63" stroke-width="1.2"/>
<line x1="558.87" y1="293.8" x2="560.07" y2="293.8" stroke="#927c63" stroke-width="1.7"/>
<line x1="559.47" y1="371.5" x2="559.47" y2="388.7" stroke="#927c63" stroke-width="1.2"/>
<line x1="558.87" y1="388.7" x2="560.07" y2="388.7" stroke="#927c63" stroke-width="1.7"/>
<rect x="557.07" y="323.6" width="4.8" height="47.4" fill="#bba589" stroke="#927c63" stroke-width="1"/>
<line x1="557.57" y1="348.5" x2="561.37" y2="348.5" stroke="#927c63" stroke-width="1"/>
<path d="M556.47 342.4L562.47 348.4M556.47 348.4L562.47 342.4" stroke="#8d7862" stroke-width="1.1" fill="none"/>
<text transform="translate(553.97 397.6) rotate(-90)" font-size="16.4" text-anchor="end" fill="#111">PsbN</text>
<rect x="581.45" y="378.2" width="4.8" height="5.2" fill="#6c6b71" stroke="#535258" stroke-width="1"/>
<path d="M580.85 377.8L586.85 383.8M580.85 383.8L586.85 377.8" stroke="#4e4d53" stroke-width="1.1" fill="none"/>
<rect x="593.05" y="374.7" width="4.8" height="4.2" fill="#a8b98a" stroke="#7f9562" stroke-width="1"/>
<path d="M592.45 373.8L598.45 379.8M592.45 379.8L598.45 373.8" stroke="#7b9160" stroke-width="1.1" fill="none"/>
<rect x="598.85" y="371.2" width="4.8" height="5.6" fill="#bba589" stroke="#927c63" stroke-width="1"/>
<path d="M598.25 371L604.25 377M598.25 377L604.25 371" stroke="#8d7862" stroke-width="1.1" fill="none"/>
<text transform="translate(595.75 397.6) rotate(-90)" font-size="16.4" text-anchor="end" fill="#111">PsbO</text>
<line x1="625.63" y1="371.9" x2="625.63" y2="377.5" stroke="#535258" stroke-width="1.2"/>
<line x1="625.03" y1="371.9" x2="626.23" y2="371.9" stroke="#535258" stroke-width="1.7"/>
<rect x="623.23" y="378" width="4.8" height="6.2" fill="#6c6b71" stroke="#535258" stroke-width="1"/>
<path d="M622.63 378.1L628.63 384.1M622.63 384.1L628.63 378.1" stroke="#4e4d53" stroke-width="1.1" fill="none"/>
<line x1="637.23" y1="295.4" x2="637.23" y2="311.1" stroke="#7f9562" stroke-width="1.2"/>
<line x1="636.63" y1="295.4" x2="637.83" y2="295.4" stroke="#7f9562" stroke-width="1.7"/>
<line x1="637.23" y1="340" x2="637.23" y2="352.6" stroke="#7f9562" stroke-width="1.2"/>
<line x1="636.63" y1="352.6" x2="637.83" y2="352.6" stroke="#7f9562" stroke-width="1.7"/>
<rect x="634.83" y="311.6" width="4.8" height="27.9" fill="#a8b98a" stroke="#7f9562" stroke-width="1"/>
<line x1="635.33" y1="328" x2="639.13" y2="328" stroke="#7f9562" stroke-width="1"/>
<path d="M634.23 321.4L640.23 327.4M634.23 327.4L640.23 321.4" stroke="#7b9160" stroke-width="1.1" fill="none"/>
<line x1="643.03" y1="259.9" x2="643.03" y2="307" stroke="#927c63" stroke-width="1.2"/>
<line x1="642.43" y1="259.9" x2="643.63" y2="259.9" stroke="#927c63" stroke-width="1.7"/>
<line x1="643.03" y1="358.9" x2="643.03" y2="362.3" stroke="#927c63" stroke-width="1.2"/>
<line x1="642.43" y1="362.3" x2="643.63" y2="362.3" stroke="#927c63" stroke-width="1.7"/>
<rect x="640.63" y="307.5" width="4.8" height="50.9" fill="#bba589" stroke="#927c63" stroke-width="1"/>
<line x1="641.13" y1="354.6" x2="644.93" y2="354.6" stroke="#927c63" stroke-width="1"/>
<path d="M640.03 322.1L646.03 328.1M640.03 328.1L646.03 322.1" stroke="#8d7862" stroke-width="1.1" fill="none"/>
<text transform="translate(637.53 397.6) rotate(-90)" font-size="16.4" text-anchor="end" fill="#111">PsbU</text>
<line x1="667.41" y1="375.8" x2="667.41" y2="379.2" stroke="#535258" stroke-width="1.2"/>
<line x1="666.81" y1="375.8" x2="668.01" y2="375.8" stroke="#535258" stroke-width="1.7"/>
<rect x="665.01" y="379.7" width="4.8" height="5.8" fill="#6c6b71" stroke="#535258" stroke-width="1"/>
<path d="M664.41 379.6L670.41 385.6M664.41 385.6L670.41 379.6" stroke="#4e4d53" stroke-width="1.1" fill="none"/>
<line x1="679.01" y1="272" x2="679.01" y2="299" stroke="#7f9562" stroke-width="1.2"/>
<line x1="678.41" y1="272" x2="679.61" y2="272" stroke="#7f9562" stroke-width="1.7"/>
<line x1="679.01" y1="335.7" x2="679.01" y2="344.4" stroke="#7f9562" stroke-width="1.2"/>
<line x1="678.41" y1="344.4" x2="679.61" y2="344.4" stroke="#7f9562" stroke-width="1.7"/>
<rect x="676.61" y="299.5" width="4.8" height="35.7" fill="#a8b98a" stroke="#7f9562" stroke-width="1"/>
<line x1="677.11" y1="326" x2="680.91" y2="326" stroke="#7f9562" stroke-width="1"/>
<path d="M676.01 310.5L682.01 316.5M676.01 316.5L682.01 310.5" stroke="#7b9160" stroke-width="1.1" fill="none"/>
<line x1="684.81" y1="277.3" x2="684.81" y2="316.6" stroke="#927c63" stroke-width="1.2"/>
<line x1="684.21" y1="277.3" x2="685.41" y2="277.3" stroke="#927c63" stroke-width="1.7"/>
<line x1="684.81" y1="359.9" x2="684.81" y2="362.3" stroke="#927c63" stroke-width="1.2"/>
<line x1="684.21" y1="362.3" x2="685.41" y2="362.3" stroke="#927c63" stroke-width="1.7"/>
<rect x="682.41" y="317.1" width="4.8" height="42.3" fill="#bba589" stroke="#927c63" stroke-width="1"/>
<line x1="682.91" y1="356.5" x2="686.71" y2="356.5" stroke="#927c63" stroke-width="1"/>
<path d="M681.81 328.6L687.81 334.6M681.81 334.6L687.81 328.6" stroke="#8d7862" stroke-width="1.1" fill="none"/>
<text transform="translate(679.31 397.6) rotate(-90)" font-size="16.4" text-anchor="end" fill="#111">PsbV</text>
<line x1="706.29" y1="389.4" x2="712.09" y2="389.4" stroke="#535258" stroke-width="1.6"/>
<path d="M706.19 386.4L712.19 392.4M706.19 392.4L712.19 386.4" stroke="#4e4d53" stroke-width="1.1" fill="none"/>
<rect x="718.39" y="384" width="4.8" height="3.9" fill="#a8b98a" stroke="#7f9562" stroke-width="1"/>
<path d="M717.79 382.95L723.79 388.95M717.79 388.95L723.79 382.95" stroke="#7b9160" stroke-width="1.1" fill="none"/>
<line x1="726.59" y1="304.3" x2="726.59" y2="325.1" stroke="#927c63" stroke-width="1.2"/>
<line x1="725.99" y1="304.3" x2="727.19" y2="304.3" stroke="#927c63" stroke-width="1.7"/>
<line x1="726.59" y1="364.7" x2="726.59" y2="382.3" stroke="#927c63" stroke-width="1.2"/>
<line x1="725.99" y1="382.3" x2="727.19" y2="382.3" stroke="#927c63" stroke-width="1.7"/>
<rect x="724.19" y="325.6" width="4.8" height="38.6" fill="#bba589" stroke="#927c63" stroke-width="1"/>
<line x1="724.69" y1="344.4" x2="728.49" y2="344.4" stroke="#927c63" stroke-width="1"/>
<path d="M723.59 341.4L729.59 347.4M723.59 347.4L729.59 341.4" stroke="#8d7862" stroke-width="1.1" fill="none"/>
<text transform="translate(721.09 397.6) rotate(-90)" font-size="16.4" text-anchor="end" fill="#111">PsbW</text>
<line x1="750.97" y1="367.8" x2="750.97" y2="375.1" stroke="#535258" stroke-width="1.2"/>
<line x1="750.37" y1="367.8" x2="751.57" y2="367.8" stroke="#535258" stroke-width="1.7"/>
<line x1="750.97" y1="384.7" x2="750.97" y2="386.4" stroke="#535258" stroke-width="1.2"/>
<line x1="750.37" y1="386.4" x2="751.57" y2="386.4" stroke="#535258" stroke-width="1.7"/>
<rect x="748.57" y="375.6" width="4.8" height="8.6" fill="#6c6b71" stroke="#535258" stroke-width="1"/>
<path d="M747.97 377L753.97 383M747.97 383L753.97 377" stroke="#4e4d53" stroke-width="1.1" fill="none"/>
<line x1="762.57" y1="333.3" x2="762.57" y2="344.9" stroke="#7f9562" stroke-width="1.2"/>
<line x1="761.97" y1="333.3" x2="763.17" y2="333.3" stroke="#7f9562" stroke-width="1.7"/>
<line x1="762.57" y1="361.3" x2="762.57" y2="367.1" stroke="#7f9562" stroke-width="1.2"/>
<line x1="761.97" y1="367.1" x2="763.17" y2="367.1" stroke="#7f9562" stroke-width="1.7"/>
<rect x="760.17" y="345.4" width="4.8" height="15.4" fill="#a8b98a" stroke="#7f9562" stroke-width="1"/>
<path d="M759.57 349.1L765.57 355.1M759.57 355.1L765.57 349.1" stroke="#7b9160" stroke-width="1.1" fill="none"/>
<line x1="768.37" y1="352.6" x2="768.37" y2="364.7" stroke="#927c63" stroke-width="1.2"/>
<line x1="767.77" y1="352.6" x2="768.97" y2="352.6" stroke="#927c63" stroke-width="1.7"/>
<line x1="768.37" y1="382.3" x2="768.37" y2="386.4" stroke="#927c63" stroke-width="1.2"/>
<line x1="767.77" y1="386.4" x2="768.97" y2="386.4" stroke="#927c63" stroke-width="1.7"/>
<rect x="765.97" y="365.2" width="4.8" height="16.6" fill="#bba589" stroke="#927c63" stroke-width="1"/>
<line x1="766.47" y1="377.5" x2="770.27" y2="377.5" stroke="#927c63" stroke-width="1"/>
<path d="M765.37 369.7L771.37 375.7M765.37 375.7L771.37 369.7" stroke="#8d7862" stroke-width="1.1" fill="none"/>
<text transform="translate(762.87 397.6) rotate(-90)" font-size="16.4" text-anchor="end" fill="#111">PsbY</text>
<text transform="translate(548.05 215.45) rotate(-90)" font-size="12.4" text-anchor="middle" fill="#5a5a5a">***</text>
<text transform="translate(558.8 235.55) rotate(-90)" font-size="12.4" text-anchor="middle" fill="#5a5a5a">***</text>
<text transform="translate(564 251.55) rotate(-90)" font-size="12" text-anchor="middle" fill="#333">n.s.</text>
<text transform="translate(630.6 348.5) rotate(-90)" font-size="12" text-anchor="middle" fill="#333">n.s.</text>
<text transform="translate(643.6 278.5) rotate(-90)" font-size="12.4" text-anchor="middle" fill="#5a5a5a">*</text>
<text transform="translate(648.85 236.65) rotate(-90)" font-size="12.4" text-anchor="middle" fill="#5a5a5a">**</text>
<text transform="translate(671.7 348.3) rotate(-90)" font-size="12" text-anchor="middle" fill="#333">n.s.</text>
<text transform="translate(685.3 248.65) rotate(-90)" font-size="12.4" text-anchor="middle" fill="#5a5a5a">**</text>
<text transform="translate(690.95 261.6) rotate(-90)" font-size="12.4" text-anchor="middle" fill="#5a5a5a">*</text>
<text x="1.2" y="518" font-size="18.5" text-anchor="start" fill="#111" letter-spacing="0.4">(<tspan font-style="italic">c</tspan>)</text>
<line x1="70.6" y1="517" x2="70.6" y2="597.6" stroke="#000" stroke-width="2.2"/>
<line x1="67" y1="576.45" x2="70.6" y2="576.45" stroke="#000" stroke-width="1.8"/>
<text x="62.5" y="582.65" font-size="16" text-anchor="end" fill="#111">120</text>
<line x1="67" y1="555.3" x2="70.6" y2="555.3" stroke="#000" stroke-width="1.8"/>
<text x="62.5" y="561.5" font-size="16" text-anchor="end" fill="#111">220</text>
<line x1="67" y1="534.15" x2="70.6" y2="534.15" stroke="#000" stroke-width="1.8"/>
<text x="62.5" y="540.35" font-size="16" text-anchor="end" fill="#111">320</text>
<line x1="67.3" y1="597.6" x2="74.6" y2="597.6" stroke="#000" stroke-width="2"/>
<text x="62.5" y="603.8" font-size="16" text-anchor="end" fill="#111">20</text>
<line x1="70.6" y1="613.8" x2="70.6" y2="704" stroke="#000" stroke-width="2.2"/>
<line x1="67.3" y1="613.8" x2="74.6" y2="613.8" stroke="#000" stroke-width="2"/>
<line x1="67" y1="703.8" x2="70.6" y2="703.8" stroke="#000" stroke-width="1.8"/>
<line x1="67" y1="673.8" x2="70.6" y2="673.8" stroke="#000" stroke-width="1.8"/>
<line x1="67" y1="643.8" x2="70.6" y2="643.8" stroke="#000" stroke-width="1.8"/>
<text x="62.5" y="710" font-size="16" text-anchor="end" fill="#111">0</text>
<text x="62.5" y="680" font-size="16" text-anchor="end" fill="#111">5</text>
<text x="62.5" y="650" font-size="16" text-anchor="end" fill="#111">10</text>
<text x="62.5" y="620" font-size="16" text-anchor="end" fill="#111">15</text>
<line x1="69.5" y1="704" x2="791" y2="704" stroke="#000" stroke-width="2.2"/>
<text transform="translate(29.8 612.9) rotate(-90)" font-size="16.5" text-anchor="middle" fill="#111">Cyt <tspan font-style="italic">b</tspan><tspan font-style="italic" font-size="11" dy="3.5">6</tspan><tspan font-style="italic" dy="-3.5" dx="2.5">f</tspan> (<tspan font-style="italic">%</tspan>)</text>
<rect x="105.9" y="701.3" width="16.8" height="0.6" fill="#6c6b71" stroke="#535258" stroke-width="1.4"/>
<path d="M111.3 698.2L117.3 704.2M111.3 704.2L117.3 698.2" stroke="#4e4d53" stroke-width="1.35" fill="none"/>
<line x1="132.7" y1="667.4" x2="132.7" y2="681.7" stroke="#6c8498" stroke-width="1.3"/>
<line x1="130.45" y1="667.4" x2="134.95" y2="667.4" stroke="#6c8498" stroke-width="1.7"/>
<line x1="132.7" y1="698.4" x2="132.7" y2="700.3" stroke="#6c8498" stroke-width="1.3"/>
<line x1="130.45" y1="700.3" x2="134.95" y2="700.3" stroke="#6c8498" stroke-width="1.7"/>
<rect x="124.3" y="682.4" width="16.8" height="15.3" fill="#93aabb" stroke="#6c8498" stroke-width="1.4"/>
<line x1="125" y1="695.9" x2="140.4" y2="695.9" stroke="#6c8498" stroke-width="1.4"/>
<path d="M129.7 685L135.7 691M129.7 691L135.7 685" stroke="#6a8296" stroke-width="1.35" fill="none"/>
<circle cx="132.7" cy="695.9" r="1.3" fill="#93aabb" stroke="#6c8498" stroke-width="0.8"/>
<line x1="169.5" y1="628.6" x2="169.5" y2="664.2" stroke="#927c63" stroke-width="1.3"/>
<line x1="167.25" y1="628.6" x2="171.75" y2="628.6" stroke="#927c63" stroke-width="1.7"/>
<rect x="161.1" y="664.9" width="16.8" height="34.9" fill="#bba589" stroke="#927c63" stroke-width="1.4"/>
<path d="M166.5 673.3L172.5 679.3M166.5 679.3L172.5 673.3" stroke="#8d7862" stroke-width="1.35" fill="none"/>
<circle cx="169.5" cy="699.6" r="1.3" fill="#bba589" stroke="#927c63" stroke-width="0.8"/>
<text x="142.4" y="723.2" font-size="16.6" text-anchor="middle" fill="#111">PetA</text>
<line x1="249.25" y1="703" x2="267.45" y2="703" stroke="#535258" stroke-width="1.6"/>
<path d="M255.35 700L261.35 706M255.35 706L261.35 700" stroke="#4e4d53" stroke-width="1.35" fill="none"/>
<line x1="276.75" y1="698" x2="276.75" y2="699" stroke="#6c8498" stroke-width="1.3"/>
<line x1="274.5" y1="698" x2="279" y2="698" stroke="#6c8498" stroke-width="1.7"/>
<rect x="268.35" y="699.7" width="16.8" height="1.6" fill="#93aabb" stroke="#6c8498" stroke-width="1.4"/>
<path d="M273.75 697.5L279.75 703.5M273.75 703.5L279.75 697.5" stroke="#6a8296" stroke-width="1.35" fill="none"/>
<line x1="313.55" y1="698.2" x2="313.55" y2="700.2" stroke="#927c63" stroke-width="1.3"/>
<line x1="311.3" y1="698.2" x2="315.8" y2="698.2" stroke="#927c63" stroke-width="1.7"/>
<rect x="305.15" y="700.9" width="16.8" height="1.1" fill="#bba589" stroke="#927c63" stroke-width="1.4"/>
<path d="M310.55 698.45L316.55 704.45M310.55 704.45L316.55 698.45" stroke="#8d7862" stroke-width="1.35" fill="none"/>
<text x="286.45" y="723.2" font-size="16" text-anchor="middle" fill="#111">PetB</text>
<line x1="393.3" y1="701.6" x2="411.5" y2="701.6" stroke="#535258" stroke-width="1.6"/>
<path d="M399.4 698.4L405.4 704.4M399.4 704.4L405.4 698.4" stroke="#4e4d53" stroke-width="1.35" fill="none"/>
<line x1="420.8" y1="690.8" x2="420.8" y2="695.1" stroke="#6c8498" stroke-width="1.3"/>
<line x1="418.55" y1="690.8" x2="423.05" y2="690.8" stroke="#6c8498" stroke-width="1.7"/>
<rect x="412.4" y="695.8" width="16.8" height="4.2" fill="#93aabb" stroke="#6c8498" stroke-width="1.4"/>
<path d="M417.8 694.4L423.8 700.4M417.8 700.4L423.8 694.4" stroke="#6a8296" stroke-width="1.35" fill="none"/>
<line x1="457.6" y1="683.3" x2="457.6" y2="691.8" stroke="#927c63" stroke-width="1.3"/>
<line x1="455.35" y1="683.3" x2="459.85" y2="683.3" stroke="#927c63" stroke-width="1.7"/>
<rect x="449.2" y="692.5" width="16.8" height="8.5" fill="#bba589" stroke="#927c63" stroke-width="1.4"/>
<path d="M454.6 692.7L460.6 698.7M454.6 698.7L460.6 692.7" stroke="#8d7862" stroke-width="1.35" fill="none"/>
<text x="430.5" y="723.2" font-size="16.3" text-anchor="middle" fill="#111">PetC</text>
<line x1="537.35" y1="701.1" x2="555.55" y2="701.1" stroke="#535258" stroke-width="1.6"/>
<path d="M543.45 698L549.45 704M543.45 704L549.45 698" stroke="#4e4d53" stroke-width="1.35" fill="none"/>
<line x1="564.85" y1="680.5" x2="564.85" y2="689.5" stroke="#6c8498" stroke-width="1.3"/>
<line x1="562.6" y1="680.5" x2="567.1" y2="680.5" stroke="#6c8498" stroke-width="1.7"/>
<rect x="556.45" y="690.2" width="16.8" height="8.9" fill="#93aabb" stroke="#6c8498" stroke-width="1.4"/>
<path d="M561.85 690.2L567.85 696.2M561.85 696.2L567.85 690.2" stroke="#6a8296" stroke-width="1.35" fill="none"/>
<line x1="601.65" y1="665.8" x2="601.65" y2="683.5" stroke="#927c63" stroke-width="1.3"/>
<line x1="599.4" y1="665.8" x2="603.9" y2="665.8" stroke="#927c63" stroke-width="1.7"/>
<rect x="593.25" y="684.2" width="16.8" height="18.1" fill="#bba589" stroke="#927c63" stroke-width="1.4"/>
<path d="M598.65 687.9L604.65 693.9M598.65 693.9L604.65 687.9" stroke="#8d7862" stroke-width="1.35" fill="none"/>
<text x="574.55" y="723.2" font-size="18.4" text-anchor="middle" fill="#111">PetD</text>
<line x1="675.15" y1="596" x2="693.35" y2="596" stroke="#535258" stroke-width="1.6"/>
<path d="M681.25 593L687.25 599M681.25 599L687.25 593" stroke="#4e4d53" stroke-width="1.35" fill="none"/>
<line x1="702.65" y1="560.1" x2="702.65" y2="560.6" stroke="#6c8498" stroke-width="1.3"/>
<line x1="700.4" y1="560.1" x2="704.9" y2="560.1" stroke="#6c8498" stroke-width="1.7"/>
<line x1="702.65" y1="567" x2="702.65" y2="571.6" stroke="#6c8498" stroke-width="1.3"/>
<line x1="700.4" y1="571.6" x2="704.9" y2="571.6" stroke="#6c8498" stroke-width="1.7"/>
<rect x="694.25" y="561.3" width="16.8" height="5" fill="#93aabb" stroke="#6c8498" stroke-width="1.4"/>
<line x1="694.95" y1="563.3" x2="710.35" y2="563.3" stroke="#6c8498" stroke-width="1.4"/>
<path d="M699.65 560.5L705.65 566.5M699.65 566.5L705.65 560.5" stroke="#6a8296" stroke-width="1.35" fill="none"/>
<line x1="739.45" y1="526.1" x2="739.45" y2="533.4" stroke="#927c63" stroke-width="1.3"/>
<line x1="737.2" y1="526.1" x2="741.7" y2="526.1" stroke="#927c63" stroke-width="1.7"/>
<line x1="739.45" y1="544.2" x2="739.45" y2="546.2" stroke="#927c63" stroke-width="1.3"/>
<line x1="737.2" y1="546.2" x2="741.7" y2="546.2" stroke="#927c63" stroke-width="1.7"/>
<rect x="731.05" y="534.1" width="16.8" height="9.4" fill="#bba589" stroke="#927c63" stroke-width="1.4"/>
<line x1="731.75" y1="541.7" x2="747.15" y2="541.7" stroke="#927c63" stroke-width="1.4"/>
<path d="M736.45 534.7L742.45 540.7M736.45 540.7L742.45 534.7" stroke="#8d7862" stroke-width="1.35" fill="none"/>
<text x="718.6" y="723.2" font-size="18.9" text-anchor="middle" fill="#111">PetM</text>
<text transform="translate(692.15 576.8) rotate(-90)" font-size="12.4" text-anchor="middle" fill="#5a5a5a">***</text>
<text transform="translate(708.35 538.6) rotate(-90)" font-size="12.4" text-anchor="middle" fill="#5a5a5a">***</text>
<text transform="translate(745.35 511.5) rotate(-90)" font-size="12.4" text-anchor="middle" fill="#5a5a5a">***</text>
<text x="1.2" y="762.5" font-size="18.5" text-anchor="start" fill="#111" letter-spacing="0.4">(<tspan font-style="italic">d</tspan>)</text>
<line x1="72" y1="761" x2="72" y2="921.4" stroke="#000" stroke-width="2.2"/>
<line x1="69" y1="921.4" x2="72" y2="921.4" stroke="#000" stroke-width="1.5"/>
<text x="62.5" y="927.74" font-size="16" text-anchor="end" fill="#111">0</text>
<line x1="69" y1="894.8" x2="72" y2="894.8" stroke="#000" stroke-width="1.5"/>
<text x="62.5" y="901.14" font-size="16" text-anchor="end" fill="#111">0.5</text>
<line x1="69" y1="868.2" x2="72" y2="868.2" stroke="#000" stroke-width="1.5"/>
<text x="62.5" y="874.54" font-size="16" text-anchor="end" fill="#111">1.0</text>
<line x1="69" y1="841.6" x2="72" y2="841.6" stroke="#000" stroke-width="1.5"/>
<text x="62.5" y="847.94" font-size="16" text-anchor="end" fill="#111">1.5</text>
<line x1="69" y1="815" x2="72" y2="815" stroke="#000" stroke-width="1.5"/>
<text x="62.5" y="821.34" font-size="16" text-anchor="end" fill="#111">2.0</text>
<line x1="69" y1="788.4" x2="72" y2="788.4" stroke="#000" stroke-width="1.5"/>
<text x="62.5" y="794.74" font-size="16" text-anchor="end" fill="#111">2.5</text>
<line x1="69" y1="761.8" x2="72" y2="761.8" stroke="#000" stroke-width="1.5"/>
<text x="62.5" y="768.14" font-size="16" text-anchor="end" fill="#111">3.0</text>
<line x1="71" y1="921.6" x2="780.4" y2="921.6" stroke="#000" stroke-width="2.2"/>
<text transform="translate(28.9 841.9) rotate(-90)" font-size="16.6" text-anchor="middle" fill="#111">ATPase (<tspan font-style="italic">%</tspan>)</text>
<line x1="99.25" y1="893" x2="99.25" y2="900.2" stroke="#535258" stroke-width="1.3"/>
<line x1="97.15" y1="893" x2="101.35" y2="893" stroke="#535258" stroke-width="1.7"/>
<line x1="99.25" y1="910.6" x2="99.25" y2="911.6" stroke="#535258" stroke-width="1.3"/>
<line x1="97.15" y1="911.6" x2="101.35" y2="911.6" stroke="#535258" stroke-width="1.7"/>
<rect x="92.45" y="900.9" width="13.6" height="9" fill="#6c6b71" stroke="#535258" stroke-width="1.4"/>
<path d="M95.95 901.7L102.55 908.3M95.95 908.3L102.55 901.7" stroke="#4e4d53" stroke-width="1.35" fill="none"/>
<rect x="107.95" y="782.6" width="13.6" height="3.2" fill="#93aabb" stroke="#6c8498" stroke-width="1.4"/>
<path d="M112.15 781.6L117.35 786.8M112.15 786.8L117.35 781.6" stroke="#6a8296" stroke-width="1.35" fill="none"/>
<line x1="130.25" y1="784.8" x2="130.25" y2="786.5" stroke="#7f9562" stroke-width="1.3"/>
<line x1="128.15" y1="784.8" x2="132.35" y2="784.8" stroke="#7f9562" stroke-width="1.7"/>
<line x1="130.25" y1="798.5" x2="130.25" y2="808" stroke="#7f9562" stroke-width="1.3"/>
<line x1="128.15" y1="808" x2="132.35" y2="808" stroke="#7f9562" stroke-width="1.7"/>
<rect x="123.45" y="787.2" width="13.6" height="10.6" fill="#a8b98a" stroke="#7f9562" stroke-width="1.4"/>
<path d="M126.95 790.4L133.55 797M126.95 797L133.55 790.4" stroke="#7b9160" stroke-width="1.35" fill="none"/>
<text x="124.6" y="941" font-size="17" text-anchor="middle" fill="#111">Atp0333/b&#8242;</text>
<line x1="200.39" y1="912" x2="200.39" y2="914.3" stroke="#535258" stroke-width="1.3"/>
<line x1="198.29" y1="912" x2="202.49" y2="912" stroke="#535258" stroke-width="1.7"/>
<rect x="193.59" y="915" width="13.6" height="3.2" fill="#6c6b71" stroke="#535258" stroke-width="1.4"/>
<path d="M197.79 914L202.99 919.2M197.79 919.2L202.99 914" stroke="#4e4d53" stroke-width="1.35" fill="none"/>
<rect x="209.09" y="895.4" width="13.6" height="3.2" fill="#93aabb" stroke="#6c8498" stroke-width="1.4"/>
<path d="M213.29 894.4L218.49 899.6M213.29 899.6L218.49 894.4" stroke="#6a8296" stroke-width="1.35" fill="none"/>
<line x1="231.39" y1="895.9" x2="231.39" y2="898.1" stroke="#7f9562" stroke-width="1.3"/>
<line x1="229.29" y1="895.9" x2="233.49" y2="895.9" stroke="#7f9562" stroke-width="1.7"/>
<line x1="231.39" y1="907.5" x2="231.39" y2="912.9" stroke="#7f9562" stroke-width="1.3"/>
<line x1="229.29" y1="912.9" x2="233.49" y2="912.9" stroke="#7f9562" stroke-width="1.7"/>
<rect x="224.59" y="898.8" width="13.6" height="8" fill="#a8b98a" stroke="#7f9562" stroke-width="1.4"/>
<path d="M228.09 898.9L234.69 905.5M228.09 905.5L234.69 898.9" stroke="#7b9160" stroke-width="1.35" fill="none"/>
<text x="224.75" y="941" font-size="17" text-anchor="middle" fill="#111">AtpA/<tspan font-style="italic">&#945;</tspan></text>
<line x1="301.53" y1="912.5" x2="301.53" y2="914.8" stroke="#535258" stroke-width="1.3"/>
<line x1="299.43" y1="912.5" x2="303.63" y2="912.5" stroke="#535258" stroke-width="1.7"/>
<rect x="294.73" y="915.5" width="13.6" height="3.1" fill="#6c6b71" stroke="#535258" stroke-width="1.4"/>
<path d="M298.93 914.45L304.13 919.65M298.93 919.65L304.13 914.45" stroke="#4e4d53" stroke-width="1.35" fill="none"/>
<line x1="317.03" y1="795.3" x2="317.03" y2="796.4" stroke="#6c8498" stroke-width="1.3"/>
<line x1="314.93" y1="795.3" x2="319.13" y2="795.3" stroke="#6c8498" stroke-width="1.7"/>
<line x1="317.03" y1="804.4" x2="317.03" y2="809.4" stroke="#6c8498" stroke-width="1.3"/>
<line x1="314.93" y1="809.4" x2="319.13" y2="809.4" stroke="#6c8498" stroke-width="1.7"/>
<rect x="310.23" y="797.1" width="13.6" height="6.6" fill="#93aabb" stroke="#6c8498" stroke-width="1.4"/>
<path d="M314.43 797.9L319.63 803.1M314.43 803.1L319.63 797.9" stroke="#6a8296" stroke-width="1.35" fill="none"/>
<line x1="332.53" y1="878.8" x2="332.53" y2="881.8" stroke="#7f9562" stroke-width="1.3"/>
<line x1="330.43" y1="878.8" x2="334.63" y2="878.8" stroke="#7f9562" stroke-width="1.7"/>
<line x1="332.53" y1="892.5" x2="332.53" y2="898.4" stroke="#7f9562" stroke-width="1.3"/>
<line x1="330.43" y1="898.4" x2="334.63" y2="898.4" stroke="#7f9562" stroke-width="1.7"/>
<rect x="325.73" y="882.5" width="13.6" height="9.3" fill="#a8b98a" stroke="#7f9562" stroke-width="1.4"/>
<path d="M329.23 884.1L335.83 890.7M329.23 890.7L335.83 884.1" stroke="#7b9160" stroke-width="1.35" fill="none"/>
<text x="326.35" y="941" font-size="16.8" text-anchor="middle" fill="#111">AtpC/<tspan font-style="italic">&#949;</tspan></text>
<line x1="402.67" y1="913.1" x2="402.67" y2="915.2" stroke="#535258" stroke-width="1.3"/>
<line x1="400.57" y1="913.1" x2="404.77" y2="913.1" stroke="#535258" stroke-width="1.7"/>
<rect x="395.87" y="915.9" width="13.6" height="2.5" fill="#6c6b71" stroke="#535258" stroke-width="1.4"/>
<path d="M400.07 914.55L405.27 919.75M400.07 919.75L405.27 914.55" stroke="#4e4d53" stroke-width="1.35" fill="none"/>
<line x1="418.17" y1="892" x2="418.17" y2="893.3" stroke="#6c8498" stroke-width="1.3"/>
<line x1="416.07" y1="892" x2="420.27" y2="892" stroke="#6c8498" stroke-width="1.7"/>
<line x1="418.17" y1="898.5" x2="418.17" y2="901.3" stroke="#6c8498" stroke-width="1.3"/>
<line x1="416.07" y1="901.3" x2="420.27" y2="901.3" stroke="#6c8498" stroke-width="1.7"/>
<rect x="411.37" y="894" width="13.6" height="3.8" fill="#93aabb" stroke="#6c8498" stroke-width="1.4"/>
<path d="M415.57 893.3L420.77 898.5M415.57 898.5L420.77 893.3" stroke="#6a8296" stroke-width="1.35" fill="none"/>
<line x1="433.67" y1="894.8" x2="433.67" y2="898" stroke="#7f9562" stroke-width="1.3"/>
<line x1="431.57" y1="894.8" x2="435.77" y2="894.8" stroke="#7f9562" stroke-width="1.7"/>
<line x1="433.67" y1="906.2" x2="433.67" y2="909.8" stroke="#7f9562" stroke-width="1.3"/>
<line x1="431.57" y1="909.8" x2="435.77" y2="909.8" stroke="#7f9562" stroke-width="1.7"/>
<rect x="426.87" y="898.7" width="13.6" height="6.8" fill="#a8b98a" stroke="#7f9562" stroke-width="1.4"/>
<path d="M430.37 898.6L436.97 905.2M430.37 905.2L436.97 898.6" stroke="#7b9160" stroke-width="1.35" fill="none"/>
<text x="426.5" y="941" font-size="17" text-anchor="middle" fill="#111">AtpD/<tspan font-style="italic">&#946;</tspan></text>
<line x1="503.81" y1="889.4" x2="503.81" y2="899.1" stroke="#535258" stroke-width="1.3"/>
<line x1="501.71" y1="889.4" x2="505.91" y2="889.4" stroke="#535258" stroke-width="1.7"/>
<line x1="503.81" y1="912" x2="503.81" y2="913.5" stroke="#535258" stroke-width="1.3"/>
<line x1="501.71" y1="913.5" x2="505.91" y2="913.5" stroke="#535258" stroke-width="1.7"/>
<rect x="497.01" y="899.8" width="13.6" height="11.5" fill="#6c6b71" stroke="#535258" stroke-width="1.4"/>
<path d="M500.51 900.7L507.11 907.3M500.51 907.3L507.11 900.7" stroke="#4e4d53" stroke-width="1.35" fill="none"/>
<line x1="519.31" y1="881.9" x2="519.31" y2="884.1" stroke="#6c8498" stroke-width="1.3"/>
<line x1="517.21" y1="881.9" x2="521.41" y2="881.9" stroke="#6c8498" stroke-width="1.7"/>
<line x1="519.31" y1="891.6" x2="519.31" y2="895.4" stroke="#6c8498" stroke-width="1.3"/>
<line x1="517.21" y1="895.4" x2="521.41" y2="895.4" stroke="#6c8498" stroke-width="1.7"/>
<rect x="512.51" y="884.8" width="13.6" height="6.1" fill="#93aabb" stroke="#6c8498" stroke-width="1.4"/>
<path d="M516.71 884.7L521.91 889.9M516.71 889.9L521.91 884.7" stroke="#6a8296" stroke-width="1.35" fill="none"/>
<line x1="534.81" y1="864.7" x2="534.81" y2="877" stroke="#7f9562" stroke-width="1.3"/>
<line x1="532.71" y1="864.7" x2="536.91" y2="864.7" stroke="#7f9562" stroke-width="1.7"/>
<line x1="534.81" y1="899.5" x2="534.81" y2="908.8" stroke="#7f9562" stroke-width="1.3"/>
<line x1="532.71" y1="908.8" x2="536.91" y2="908.8" stroke="#7f9562" stroke-width="1.7"/>
<rect x="528.01" y="877.7" width="13.6" height="21.1" fill="#a8b98a" stroke="#7f9562" stroke-width="1.4"/>
<line x1="528.71" y1="889.9" x2="540.91" y2="889.9" stroke="#7f9562" stroke-width="1.4"/>
<path d="M531.51 882.9L538.11 889.5M531.51 889.5L538.11 882.9" stroke="#7b9160" stroke-width="1.35" fill="none"/>
<text x="527.45" y="941" font-size="16.6" text-anchor="middle" fill="#111">AtpF/b</text>
<rect x="598.15" y="910.5" width="13.6" height="1.4" fill="#6c6b71" stroke="#535258" stroke-width="1.4"/>
<path d="M602.35 908.6L607.55 913.8M602.35 913.8L607.55 908.6" stroke="#4e4d53" stroke-width="1.35" fill="none"/>
<line x1="620.45" y1="868.3" x2="620.45" y2="869.8" stroke="#6c8498" stroke-width="1.3"/>
<line x1="618.35" y1="868.3" x2="622.55" y2="868.3" stroke="#6c8498" stroke-width="1.7"/>
<rect x="613.65" y="870.5" width="13.6" height="2.3" fill="#93aabb" stroke="#6c8498" stroke-width="1.4"/>
<path d="M617.85 869.05L623.05 874.25M617.85 874.25L623.05 869.05" stroke="#6a8296" stroke-width="1.35" fill="none"/>
<line x1="635.95" y1="880" x2="635.95" y2="881.7" stroke="#7f9562" stroke-width="1.3"/>
<line x1="633.85" y1="880" x2="638.05" y2="880" stroke="#7f9562" stroke-width="1.7"/>
<line x1="635.95" y1="893.9" x2="635.95" y2="904.2" stroke="#7f9562" stroke-width="1.3"/>
<line x1="633.85" y1="904.2" x2="638.05" y2="904.2" stroke="#7f9562" stroke-width="1.7"/>
<rect x="629.15" y="882.4" width="13.6" height="10.8" fill="#a8b98a" stroke="#7f9562" stroke-width="1.4"/>
<path d="M632.65 886.5L639.25 893.1M632.65 893.1L639.25 886.5" stroke="#7b9160" stroke-width="1.35" fill="none"/>
<text x="629.85" y="941" font-size="18.5" text-anchor="middle" fill="#111">AtpG/<tspan font-style="italic">&#947;</tspan></text>
<line x1="706.09" y1="889.8" x2="706.09" y2="892" stroke="#535258" stroke-width="1.3"/>
<line x1="703.99" y1="889.8" x2="708.19" y2="889.8" stroke="#535258" stroke-width="1.7"/>
<rect x="699.29" y="892.7" width="13.6" height="3.7" fill="#6c6b71" stroke="#535258" stroke-width="1.4"/>
<path d="M703.49 891.95L708.69 897.15M703.49 897.15L708.69 891.95" stroke="#4e4d53" stroke-width="1.35" fill="none"/>
<line x1="721.59" y1="850.9" x2="721.59" y2="863.8" stroke="#6c8498" stroke-width="1.3"/>
<line x1="719.49" y1="850.9" x2="723.69" y2="850.9" stroke="#6c8498" stroke-width="1.7"/>
<line x1="721.59" y1="882.3" x2="721.59" y2="888.5" stroke="#6c8498" stroke-width="1.3"/>
<line x1="719.49" y1="888.5" x2="723.69" y2="888.5" stroke="#6c8498" stroke-width="1.7"/>
<rect x="714.79" y="864.5" width="13.6" height="17.1" fill="#93aabb" stroke="#6c8498" stroke-width="1.4"/>
<line x1="715.49" y1="876.3" x2="727.69" y2="876.3" stroke="#6c8498" stroke-width="1.4"/>
<path d="M718.29 868.7L724.89 875.3M718.29 875.3L724.89 868.7" stroke="#6a8296" stroke-width="1.35" fill="none"/>
<line x1="737.09" y1="867.3" x2="737.09" y2="870.5" stroke="#7f9562" stroke-width="1.3"/>
<line x1="734.99" y1="867.3" x2="739.19" y2="867.3" stroke="#7f9562" stroke-width="1.7"/>
<line x1="737.09" y1="886" x2="737.09" y2="896.7" stroke="#7f9562" stroke-width="1.3"/>
<line x1="734.99" y1="896.7" x2="739.19" y2="896.7" stroke="#7f9562" stroke-width="1.7"/>
<rect x="730.29" y="871.2" width="13.6" height="14.1" fill="#a8b98a" stroke="#7f9562" stroke-width="1.4"/>
<line x1="730.99" y1="874.1" x2="743.19" y2="874.1" stroke="#7f9562" stroke-width="1.4"/>
<path d="M733.79 876.2L740.39 882.8M733.79 882.8L740.39 876.2" stroke="#7b9160" stroke-width="1.35" fill="none"/>
<text x="730.4" y="941" font-size="18.5" text-anchor="middle" fill="#111">AtpH/<tspan font-style="italic">&#948;</tspan></text>
<text transform="translate(103.5 869.3) rotate(-90)" font-size="12" text-anchor="middle" fill="#333">n.s.</text>
<text transform="translate(122.2 763.35) rotate(-90)" font-size="12.4" text-anchor="middle" fill="#5a5a5a">***</text>
<text transform="translate(137.2 761.15) rotate(-90)" font-size="12.4" text-anchor="middle" fill="#5a5a5a">***</text>
<text transform="translate(324.2 771.85) rotate(-90)" font-size="12.4" text-anchor="middle" fill="#5a5a5a">*</text>
<text transform="translate(713.8 861.65) rotate(-90)" font-size="12.4" text-anchor="middle" fill="#5a5a5a">**</text>
<text transform="translate(726.2 824.7) rotate(-90)" font-size="12" text-anchor="middle" fill="#333">n.s.</text>
<text transform="translate(741.2 839.45) rotate(-90)" font-size="12" text-anchor="middle" fill="#333">n.s.</text>
</svg>
</body></html>
